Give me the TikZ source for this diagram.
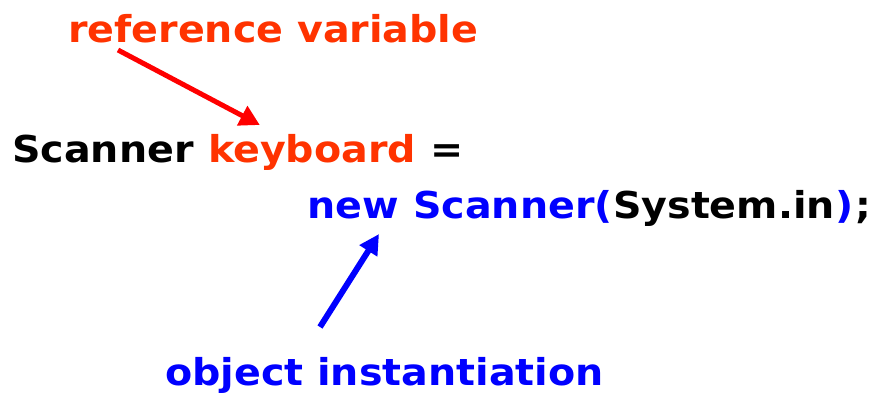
\documentclass[tikz,border=0pt]{standalone}
\usepackage{fontspec}
\setmainfont{DejaVu Sans}[FakeStretch=1.07]
\usepackage{xcolor}
\usetikzlibrary{arrows.meta,positioning,calc}
\definecolor{varorange}{RGB}{255,51,0}
\definecolor{arrowred}{RGB}{255,0,0}
\definecolor{newblue}{RGB}{0,0,255}

\begin{document}
\begin{tikzpicture}[
  x=1pt, y=-1pt,
  code/.style={inner sep=0pt, anchor=base west, font=\fontsize{37}{44}\selectfont\bfseries},
  label/.style={code, text=varorange},
  refarrow/.style={-{Triangle[length=20pt,width=21pt]}, line width=5pt, arrowred},
  objarrow/.style={-{Triangle[length=20pt,width=20pt]}, line width=6pt, newblue}
]
\useasboundingbox (0,0) rectangle (873,400);

\node[label] (refvar) at (68,42) {reference variable};
\node[code] (decl) at (12,162) {Scanner};
\node[code, text=varorange, right=14pt of decl.base east, anchor=base west] (kb) {keyboard};
\node[code, right=14pt of kb.base east, anchor=base west] (eq) {=};
\node[code, text=newblue] (newkw) at (307,218) {new};
\node[code, text=newblue, right=14pt of newkw.base east, anchor=base west] (cls) {Scanner(};
\node[code, right=0pt of cls.base east, anchor=base west] (arg) {System.in};
\node[code, text=newblue, right=0pt of arg.base east, anchor=base west] (close) {)};
\node[code, right=2pt of close.base east, anchor=base west] (semi) {;};
\node[code, text=newblue] (objinst) at (165,385) {object instantiation};

\coordinate (reftail) at ($(refvar.base west)+(50,8)$);
\coordinate (kbtip) at ($(kb.base west)+(52,-37)$);
\coordinate (objtail) at ($(objinst.base west)+(155,-58)$);
\coordinate (newtip) at ($(newkw.base west)+(72,16)$);

\draw[refarrow] (reftail) -- (kbtip);
\draw[objarrow] (objtail) -- (newtip);
\end{tikzpicture}
\end{document}
